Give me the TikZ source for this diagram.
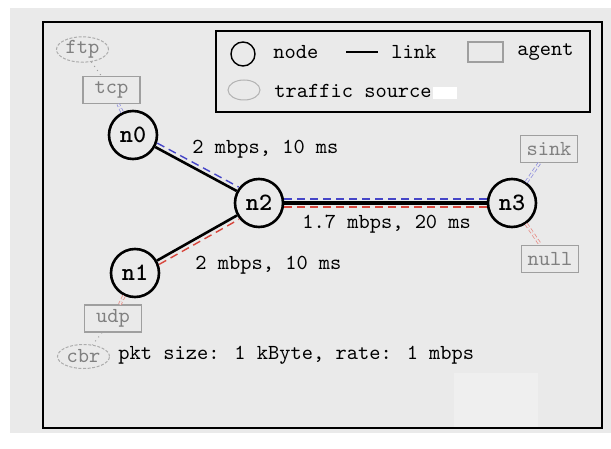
\documentclass[tikz,border=0pt]{standalone}
\usetikzlibrary{shapes,shapes.geometric,calc,positioning}
\definecolor{bgcol}{RGB}{234,234,234}
\definecolor{fwdblue}{RGB}{70,70,200}
\definecolor{bwdred}{RGB}{215,70,60}

\begin{document}
\begin{tikzpicture}
	[x=0.5pt,y=-0.5pt,
	every node/.style={font=\ttfamily\fontsize{10.7}{12}\selectfont},
	nsnode/.style={shape=circle,draw,line width=1.3pt,minimum size=24pt,inner sep=0pt,
		font=\ttfamily\fontsize{12.5}{13}\selectfont\bfseries},
	agent/.style={shape=rectangle,draw=gray!75,line width=0.6pt,minimum width=28.5pt,
		minimum height=13.5pt,inner sep=0pt,text=gray},
	source/.style={shape=ellipse,draw=gray!65,dash pattern=on 1.5pt off 0.8pt,line width=0.5pt,
		minimum width=26pt,minimum height=12pt,inner sep=0pt,text=gray},
	lbl/.style={anchor=west,inner sep=0pt},
	link/.style={-,line width=1.3pt},
	fwd/.style={draw=fwdblue,line width=0.7pt,dash pattern=on 4pt off 2.5pt},
	bwd/.style={draw=bwdred,line width=0.7pt,dash pattern=on 4pt off 2.5pt},
	alink/.style={line width=0.4pt,double=bgcol,double distance=0.9pt,dash pattern=on 2pt off 1.2pt},
	srclink/.style={draw=gray!75,line width=0.5pt,dotted}]
	\useasboundingbox (0,0) rectangle (611,449);
	\fill[bgcol] (10,8) rectangle (611,433);
	\fill[white!25!bgcol] (454,373) rectangle (538,427);
	\draw[line width=1pt] (43,22) rectangle (602,428);
	% legend
	\draw[line width=1pt] (216,31) rectangle (590,112);
	\node[draw,circle,line width=0.7pt,minimum size=12pt,inner sep=0pt] (lnode) at (243,54) {};
	\node[lbl] (lnodetxt) at (273,52) {node};
	\coordinate (llinka) at (346,52);
	\coordinate (llinkb) at (378,52);
	\draw[line width=1pt] (llinka) -- (llinkb);
	\node[lbl] (llinktxt) at (391,52) {link};
	\node[agent,minimum width=17.5pt,minimum height=10pt] (lagent) at (485.5,52) {};
	\node[lbl] (lagenttxt) at (517,52) {agent};
	\node[source,solid,draw=gray!60,minimum width=16pt,minimum height=10pt] (lsrc) at (244,90) {};
	\node[lbl] (lsrctxt) at (274,91) {traffic source};
	\fill[white] (433,87) rectangle (457,99);
	% nodes
	\node[nsnode] (n0) at (133,135) {n0};
	\node[nsnode] (n1) at (135,273) {n1};
	\node[nsnode] (n2) at (259,203) {n2};
	\node[nsnode] (n3) at (512,203) {n3};
	% agents
	\node[agent] (tcp) at (111.5,90) {tcp};
	\node[source] (ftp) at (82.5,49.5) {ftp};
	\node[agent] (sink) at (549,149) {sink};
	\node[agent] (null) at (550,259) {null};
	\node[agent] (udp) at (113,318.5) {udp};
	\node[source] (cbr) at (83.5,356.5) {cbr};
	% links
	\path
	\foreach \startNode/\endNode in {n0/n2,n1/n2}
	{
		(\startNode) edge[link] (\endNode)
	};
	\draw[link,line width=1.8pt] (n2) -- (n3);
	\draw[fwd,transform canvas={xshift=1pt,yshift=1.95pt}] (n0) -- (n2);
	\draw[bwd,transform canvas={xshift=1.1pt,yshift=-1.9pt}] (n1) -- (n2);
	\draw[fwd,transform canvas={yshift=2pt}] (n2) -- (n3);
	\draw[bwd,transform canvas={yshift=-2pt}] (n2) -- (n3);
	\draw[alink,draw=fwdblue!60] (n0) -- (tcp);
	\draw[alink,draw=fwdblue!60] (n3) -- (sink);
	\draw[alink,draw=bwdred!60] (n3) -- (null);
	\draw[alink,draw=bwdred!60] (n1) -- (udp);
	\draw[srclink] (ftp) -- (tcp);
	\draw[srclink] (udp) -- (cbr);
	% labels
	\node[lbl] (l02) at (192,149) {2 mbps, 10 ms};
	\node[lbl] (l12) at (195,265) {2 mbps, 10 ms};
	\node[lbl] (l23) at (302,224) {1.7 mbps, 20 ms};
	\node[lbl] (lcbr) at (118,355) {pkt size: 1 kByte, rate: 1 mbps};
\end{tikzpicture}
\end{document}
